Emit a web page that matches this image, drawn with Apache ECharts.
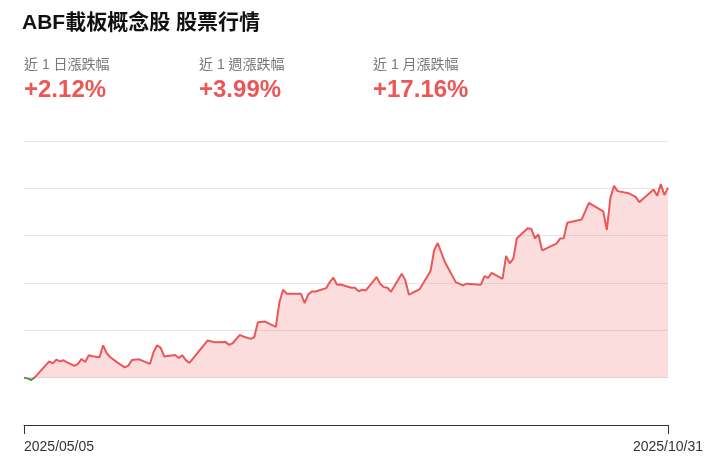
<!DOCTYPE html>
<html>
<head>
<meta charset="utf-8">
<script src="https://cdn.jsdelivr.net/npm/echarts@6/dist/echarts.min.js"></script>
<style>
html,body{margin:0;padding:0;background:#fff;}
#chart{width:713px;height:465px;}
</style>
</head>
<body>
<div id="chart"></div>
<script>
var titleText = 'ABF載板概念股 股票行情';
var statLabels = ['近 1 日漲跌幅', '近 1 週漲跌幅', '近 1 月漲跌幅'];
var statValues = ['+2.12%', '+3.99%', '+17.16%'];
var axisStart = '2025-05-05';
var axisEnd = '2025-10-31';

var dates = [
 '2025-05-05','2025-05-06','2025-05-07','2025-05-08','2025-05-09','2025-05-12','2025-05-13','2025-05-14','2025-05-15','2025-05-16',
 '2025-05-17','2025-05-19','2025-05-20','2025-05-21','2025-05-22','2025-05-23','2025-05-24','2025-05-26','2025-05-27','2025-05-28',
 '2025-05-29','2025-05-31','2025-06-02','2025-06-03','2025-06-04','2025-06-06','2025-06-09','2025-06-10','2025-06-11','2025-06-12',
 '2025-06-13','2025-06-16','2025-06-17','2025-06-18','2025-06-19','2025-06-20','2025-06-25','2025-06-27','2025-06-30','2025-07-01',
 '2025-07-02','2025-07-04','2025-07-05','2025-07-07','2025-07-08','2025-07-09','2025-07-11','2025-07-14','2025-07-15','2025-07-16',
 '2025-07-17','2025-07-21','2025-07-22','2025-07-23','2025-07-24','2025-07-25','2025-07-28','2025-07-29','2025-07-30','2025-07-31',
 '2025-08-01','2025-08-04','2025-08-05','2025-08-06','2025-08-07','2025-08-08','2025-08-11','2025-08-12','2025-08-13','2025-08-14',
 '2025-08-15','2025-08-18','2025-08-19','2025-08-20','2025-08-21','2025-08-23','2025-08-26','2025-08-27','2025-08-28','2025-08-30',
 '2025-09-02','2025-09-04','2025-09-05','2025-09-09','2025-09-10','2025-09-11','2025-09-12','2025-09-15','2025-09-16','2025-09-17',
 '2025-09-18','2025-09-19','2025-09-22','2025-09-23','2025-09-24','2025-09-25','2025-09-26','2025-09-30','2025-10-01','2025-10-02',
 '2025-10-03','2025-10-07','2025-10-09','2025-10-13','2025-10-14','2025-10-15','2025-10-16','2025-10-17','2025-10-20','2025-10-22',
 '2025-10-23','2025-10-27','2025-10-28','2025-10-29','2025-10-30','2025-10-31'
];
var values = [
 0.00,-0.15,-0.49,0.06,0.91,3.45,3.03,3.81,3.45,3.67,
 3.24,2.48,2.90,3.96,3.33,4.72,4.51,4.30,6.84,5.15,
 4.30,3.18,2.18,2.54,3.75,3.88,2.90,5.36,6.84,6.29,
 4.45,4.81,4.17,4.70,3.71,3.11,7.84,7.48,7.56,6.93,
 7.27,9.05,8.69,8.20,8.54,11.72,11.86,10.74,15.95,18.58,
 17.73,17.73,15.74,17.58,18.22,18.22,18.92,20.19,21.12,19.64,
 19.70,19.00,19.00,18.22,18.58,18.43,21.25,19.85,19.13,19.00,
 18.16,21.97,20.55,17.52,17.94,18.71,22.52,26.91,28.45,24.43,
 20.19,19.49,19.85,19.64,21.46,21.08,22.14,20.87,25.74,24.15,
 25.15,29.45,31.57,31.42,29.45,30.25,26.91,28.33,29.39,29.45,
 32.73,33.41,36.93,35.11,31.21,38.03,40.53,39.41,38.98,38.20,
 37.08,39.77,38.41,40.89,38.56,40.15
];
var yMin = -10, yMax = 50, yStep = 10;

function ts(s){ var p = s.split('-'); return new Date(+p[0], +p[1]-1, +p[2]).getTime(); }
var tMin = ts(axisStart), tMax = ts(axisEnd);
var seriesData = dates.map(function(d, i){ return [ts(d), values[i]]; });

var FONT = '"Liberation Sans", Arial, "Noto Sans CJK TC", sans-serif';
var RED = '#eb5757';
var GREEN = '#3d9a4c';
var statX = [24, 199, 373];
var graphics = [{
  type: 'text', left: 22, top: 13,
  style: { text: titleText, font: 'bold 21px ' + FONT, fill: '#111' }
}];
statLabels.forEach(function(t, i){
  graphics.push({ type: 'text', left: statX[i], top: 58,
    style: { text: t, font: '14px ' + FONT, fill: '#777' } });
  graphics.push({ type: 'text', left: statX[i], top: 78,
    style: { text: statValues[i], font: 'bold 24px ' + FONT, fill: RED } });
});

function fmt(v){
  var d = new Date(v);
  var m = d.getMonth()+1, dd = d.getDate();
  return d.getFullYear() + '/' + (m<10?'0':'') + m + '/' + (dd<10?'0':'') + dd;
}

var chart = echarts.init(document.getElementById('chart'), null, {renderer: 'canvas'});
chart.setOption({
  animation: false,
  backgroundColor: '#fff',
  graphic: graphics,
  grid: { left: 24, right: 45, top: 141, bottom: 40 },
  xAxis: {
    type: 'value', min: tMin, max: tMax, scale: true,
    axisLine: { show: true, onZero: false, lineStyle: { color: '#333', width: 1 } },
    axisTick: { show: true, customValues: [tMin, tMax], length: 9, lineStyle: { color: '#333' } },
    axisLabel: {
      customValues: [tMin, tMax], formatter: fmt,
      fontSize: 14, color: '#333', fontFamily: FONT, margin: 15,
      alignMinLabel: 'left', alignMaxLabel: 'center'
    },
    splitLine: { show: false }
  },
  yAxis: {
    type: 'value', min: yMin, max: yMax, interval: yStep,
    axisLine: { show: false }, axisTick: { show: false }, axisLabel: { show: false },
    splitLine: { show: true, lineStyle: { color: '#e6e6e6', width: 1 } }
  },
  visualMap: {
    type: 'piecewise', show: false, dimension: 1, seriesIndex: 0,
    pieces: [{ gte: yMin, lt: 0, color: GREEN }, { gte: 0, lte: yMax, color: RED }]
  },
  series: [{
    type: 'line', data: seriesData, symbol: 'none', showSymbol: false,
    lineStyle: { width: 2 },
    areaStyle: { color: 'rgba(235,87,87,0.2)', opacity: 1, origin: 'auto' }
  }]
});
</script>
</body>
</html>
